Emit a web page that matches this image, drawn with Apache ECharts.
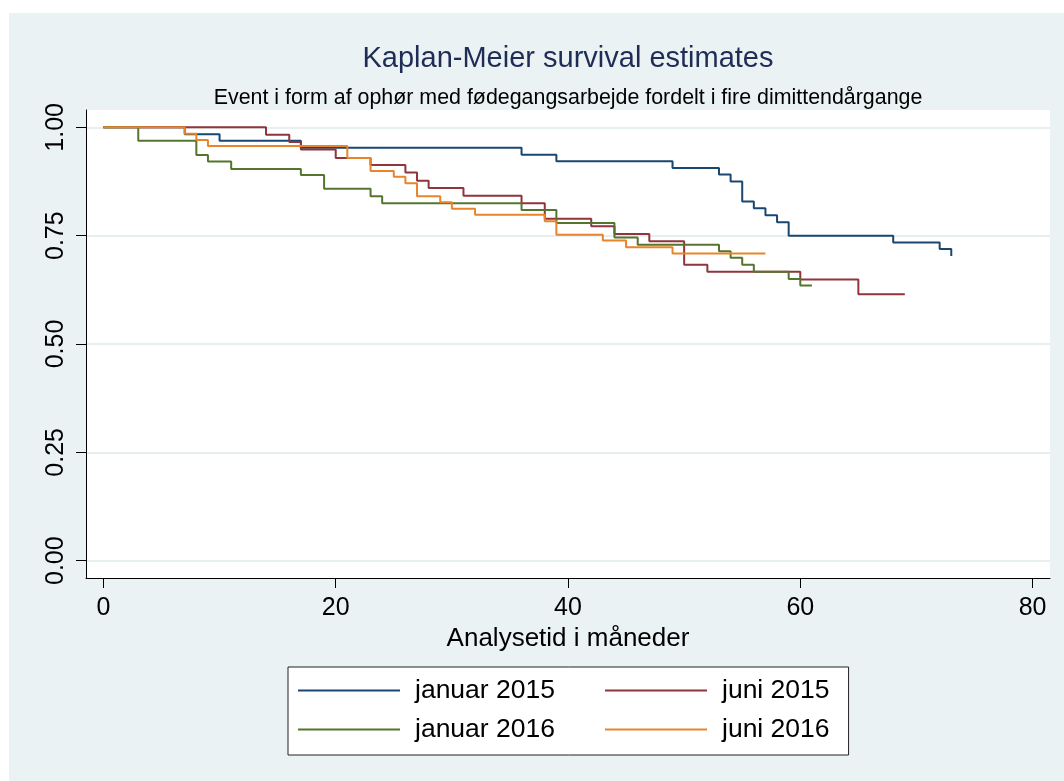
<!DOCTYPE html>
<html>
<head>
<meta charset="utf-8">
<script src="https://cdn.jsdelivr.net/npm/echarts@6/dist/echarts.min.js"></script>
<style>
  html, body { margin: 0; padding: 0; background: #ffffff; }
  #bg { position: absolute; left: 9px; top: 13px; right: 0; bottom: 0; background: #eaf2f3; }
  #chart { position: absolute; left: 0; top: 0; width: 1064px; height: 781px; }
</style>
</head>
<body>
<div id="bg"></div>
<div id="chart"></div>
<script>
// ---- data ----
const seriesNames = ['januar 2015', 'juni 2015', 'januar 2016', 'juni 2016'];

const jan2015Time = [0, 7, 10, 17, 36, 39, 49, 53, 54, 55, 56, 57, 58, 59, 68, 72, 73];
const jan2015Surv = [1, 0.984, 0.969, 0.953, 0.937, 0.922, 0.906, 0.891, 0.875, 0.829, 0.813, 0.797, 0.781, 0.750, 0.734, 0.719, 0.703];

const jun2015Time = [0, 14, 16, 17, 20, 23, 26, 27, 28, 31, 36, 38, 42, 44, 47, 50, 52, 60, 65, 69];
const jun2015Surv = [1, 0.983, 0.966, 0.949, 0.929, 0.913, 0.896, 0.877, 0.860, 0.842, 0.825, 0.789, 0.772, 0.754, 0.737, 0.683, 0.667, 0.649, 0.615, 0.615];

const jan2016Time = [0, 3, 8, 9, 11, 17, 19, 23, 24, 36, 39, 44, 46, 53, 54, 55, 56, 59, 60, 61];
const jan2016Surv = [1, 0.969, 0.936, 0.921, 0.904, 0.890, 0.858, 0.841, 0.825, 0.809, 0.779, 0.746, 0.729, 0.714, 0.699, 0.683, 0.667, 0.650, 0.635, 0.635];

const jun2016Time = [0, 7, 8, 9, 21, 23, 25, 26, 27, 29, 30, 32, 38, 39, 43, 45, 49, 57];
const jun2016Surv = [1, 0.985, 0.971, 0.957, 0.929, 0.899, 0.886, 0.871, 0.841, 0.827, 0.812, 0.798, 0.783, 0.752, 0.739, 0.723, 0.709, 0.709];

const xTicks = [0, 20, 40, 60, 80];
const yTicks = [0, 0.25, 0.5, 0.75, 1];

const titleText = 'Kaplan-Meier survival estimates';
const subtitleText = 'Event i form af ophør med fødegangsarbejde fordelt i fire dimittendårgange';
const xAxisName = 'Analysetid i måneder';

// ---- build ----
const colors = ['#1a476f', '#90353b', '#55752f', '#e8842a'];
const times = [jan2015Time, jun2015Time, jan2016Time, jun2016Time];
const survs = [jan2015Surv, jun2015Surv, jan2016Surv, jun2016Surv];
const FONT = '"Liberation Sans", Arial, Helvetica, sans-serif';

const series = seriesNames.map((name, i) => ({
  name: name,
  type: 'line',
  step: 'end',
  showSymbol: false,
  symbol: 'none',
  animation: false,
  color: colors[i],
  lineStyle: { width: 2, color: colors[i] },
  data: times[i].map((t, j) => [t, survs[i][j]])
}));

const chart = echarts.init(document.getElementById('chart'), null, { renderer: 'canvas' });
chart.setOption({
  backgroundColor: 'transparent',
  animation: false,
  title: [
    { text: titleText, left: 563, textAlign: 'center', top: 39,
      textStyle: { fontFamily: FONT, fontSize: 29, fontWeight: 'normal', color: '#1f2d55' } },
    { text: subtitleText, left: 563, textAlign: 'center', top: 83,
      textStyle: { fontFamily: FONT, fontSize: 21.4, fontWeight: 'normal', color: '#000000' } }
  ],
  grid: { left: 86, top: 110, right: 14, bottom: 203, show: true, backgroundColor: '#ffffff', borderWidth: 0, containLabel: false },
  xAxis: {
    type: 'value', min: -1.5, max: 81.5,
    name: xAxisName, nameLocation: 'middle', nameGap: 43,
    nameTextStyle: { fontFamily: FONT, fontSize: 26, color: '#000000' },
    axisLine: { onZero: false, lineStyle: { color: '#000000', width: 1 } },
    axisTick: { show: true, length: 10, inside: false, customValues: xTicks, lineStyle: { color: '#000000' } },
    axisLabel: { customValues: xTicks, margin: 18, fontFamily: FONT, fontSize: 25, color: '#000000' },
    splitLine: { show: false }
  },
  yAxis: {
    type: 'value', min: -0.04, max: 1.04,
    axisLine: { show: true, onZero: false, lineStyle: { color: '#000000', width: 1 } },
    axisTick: { show: true, length: 10, inside: false, customValues: yTicks, lineStyle: { color: '#000000' } },
    axisLabel: { customValues: yTicks, rotate: 90, margin: 17, fontFamily: FONT, fontSize: 25, color: '#000000',
      formatter: v => Number(v).toFixed(2) },
    splitLine: { show: true, lineStyle: { color: '#e7eff0', width: 2 } }
  },
  legend: {
    data: seriesNames,
    left: 288, top: 667,
    width: 545,
    orient: 'horizontal',
    icon: 'rect',
    itemWidth: 102, itemHeight: 2,
    itemGap: 12,
    padding: [10, 19, 12, 10],
    backgroundColor: '#ffffff',
    borderColor: '#222222', borderWidth: 1,
    borderRadius: 0,
    selectedMode: false,
    formatter: name => (name.indexOf('januar') === 0 ? '{a|' + name + '}' : '{b|' + name + '}'),
    textStyle: {
      fontFamily: FONT, fontSize: 26.5, color: '#000000', padding: [0, 0, 0, 10], lineHeight: 26,
      rich: {
        a: { width: 178, fontFamily: FONT, fontSize: 26.5, color: '#000000', lineHeight: 26 },
        b: { fontFamily: FONT, fontSize: 26.5, color: '#000000', lineHeight: 26 }
      }
    }
  },
  series: series
});
</script>
</body>
</html>
